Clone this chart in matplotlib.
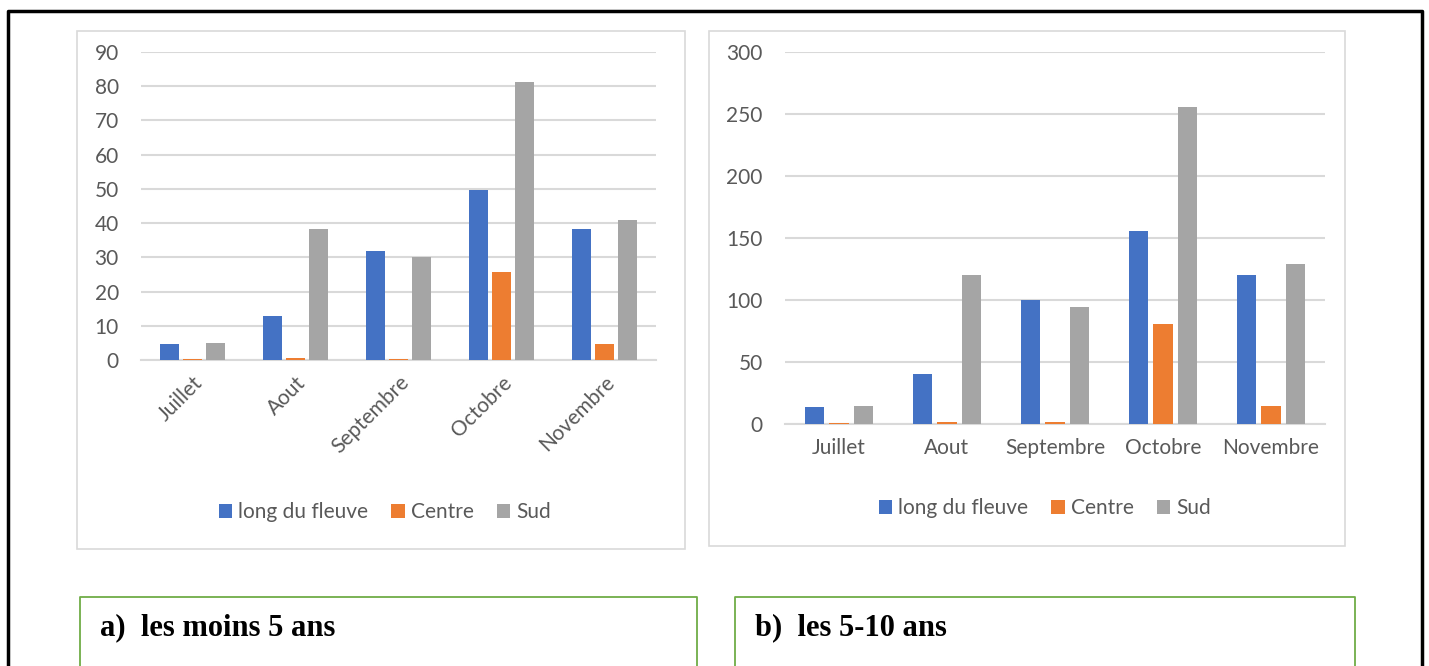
import matplotlib.pyplot as plt
from matplotlib.patches import Rectangle
from matplotlib.lines import Line2D
import numpy as np

plt.rcParams['font.family'] = ['Lato', 'DejaVu Sans']

mois = ['Juillet', 'Aout', 'Septembre', 'Octobre', 'Novembre']
series = ['long du fleuve', 'Centre', 'Sud']
colors = ['#4472C4', '#ED7D31', '#A5A5A5']

# a) les moins 5 ans
fleuve_a = [4.6, 12.8, 31.8, 49.6, 38.3]
centre_a = [0.3, 0.6, 0.4, 25.7, 4.7]
sud_a = [4.9, 38.3, 30.1, 81.3, 41.0]

# b) les 5-10 ans
fleuve_b = [14.0, 40.3, 100.0, 155.9, 120.2]
centre_b = [0.5, 1.6, 1.3, 80.9, 14.8]
sud_b = [14.8, 120.4, 94.4, 255.9, 129.0]

W, H = 1429, 666
fig = plt.figure(figsize=(W / 100, H / 100), dpi=100)


def px_axes(x0, y0, x1, y1):
    return fig.add_axes([x0 / W, 1 - y1 / H, (x1 - x0) / W, (y1 - y0) / H])


def px_rect(x0, y0, x1, y1, color, lw):
    fig.patches.append(Rectangle((x0 / W, 1 - y1 / H), (x1 - x0) / W, (y1 - y0) / H,
                                 transform=fig.transFigure, fill=False,
                                 edgecolor=color, linewidth=lw))


def px_line(xs, ys, color, lw):
    fig.lines.append(Line2D([x / W for x in xs], [1 - y / H for y in ys],
                            transform=fig.transFigure, color=color, linewidth=lw))


def bar_chart(ax, data, ymax, step, rotate):
    x = np.arange(len(mois))
    width = 0.18
    offsets = [-0.225, 0, 0.225]
    handles = []
    for vals, off, c, name in zip(data, offsets, colors, series):
        h = ax.bar(x + off, vals, width, color=c, label=name, zorder=3)
        handles.append(h)
    ax.set_xlim(-0.5, len(mois) - 0.5)
    ax.set_ylim(0, ymax)
    ax.set_yticks(np.arange(0, ymax + 1, step))
    ax.grid(axis='y', color='#D9D9D9', linewidth=1.5, zorder=0)
    for s in ['top', 'right', 'left']:
        ax.spines[s].set_visible(False)
    ax.spines['bottom'].set_color('#D9D9D9')
    ax.spines['bottom'].set_linewidth(1.5)
    ax.tick_params(axis='y', length=0, pad=16, labelsize=15, labelcolor='#595959')
    ax.tick_params(axis='x', length=0, labelsize=15, labelcolor='#595959')
    ax.set_xticks(x)
    if rotate:
        ax.set_xticklabels(mois, rotation=45, ha='right', rotation_mode='anchor')
        ax.tick_params(axis='x', pad=9)
    else:
        ax.set_xticklabels(mois)
        ax.tick_params(axis='x', pad=10)
    return handles


# chart boxes
px_rect(77, 31, 685, 549, '#D9D9D9', 1.2)
px_rect(709, 31, 1345, 546, '#D9D9D9', 1.2)

ax1 = px_axes(141, 52, 656, 360)
h1 = bar_chart(ax1, [fleuve_a, centre_a, sud_a], 90, 10, True)
ax2 = px_axes(785, 52, 1325, 424)
h2 = bar_chart(ax2, [fleuve_b, centre_b, sud_b], 300, 50, False)

for hs, cx, cy in [(h1, 385, 512), (h2, 1045, 508)]:
    fig.legend(hs, series, loc='center', bbox_to_anchor=(cx / W, 1 - cy / H),
               ncol=3, frameon=False, fontsize=15, handlelength=0.65,
               handleheight=0.65, handletextpad=0.3, columnspacing=1.1,
               labelcolor='#595959')

# outer black frame
px_line([8, 8, 1422, 1422], [H, 11, 11, H], 'black', 2.5)

# caption boxes
green = '#70AD47'
px_line([80, 80, 697, 697], [H, 597, 597, H], green, 1.3)
px_line([735, 735, 1355, 1355], [H, 597, 597, H], green, 1.3)
fig.text(100 / W, 1 - 628 / H, 'a)  les moins 5 ans', family='Liberation Serif',
         weight='bold', fontsize=22, va='center', ha='left')
fig.text(755 / W, 1 - 628 / H, 'b)  les 5-10 ans', family='Liberation Serif',
         weight='bold', fontsize=22, va='center', ha='left')

fig.savefig('out.png', dpi=100)
